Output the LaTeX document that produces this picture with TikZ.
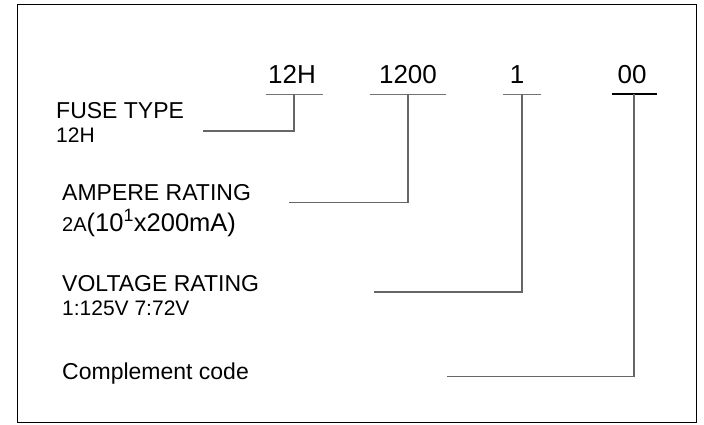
\documentclass[tikz,border=0pt]{standalone}
\usepackage{fontspec}
\setmainfont{Liberation Sans}
\begin{document}
\begin{tikzpicture}[x=1pt,y=-1pt,
  code/.style={anchor=base,inner sep=0pt,font=\fontsize{26}{30}\selectfont},
  lab/.style={anchor=base west,inner sep=0pt,font=\fontsize{23}{27}\selectfont},
  sublab/.style={anchor=base west,inner sep=0pt,font=\fontsize{21}{25}\selectfont},
  uline/.style={draw=black!55,line width=1pt},
  conn/.style={draw=black!60,line width=1.1pt}]
\useasboundingbox (0,0) rectangle (704,424);
\draw[line width=1.3pt] (17.5,4.5) rectangle (696.5,422.8);
% codes
\node[code] (c1) at (292,83) {12H};
\node[code] (c2) at (408,83) {1200};
\node[code] (c3) at (517,83) {1};
\node[code] (c4) at (632,83) {00};
% underlines
\coordinate (u1a) at (266,94); \coordinate (u1b) at (323,94);
\coordinate (u2a) at (370,94); \coordinate (u2b) at (446,94);
\coordinate (u3a) at (503,94); \coordinate (u3b) at (541,94);
\coordinate (u4a) at (612,94); \coordinate (u4b) at (657,94);
\draw[uline] (u1a) -- (u1b);
\draw[uline] (u2a) -- (u2b);
\draw[uline] (u3a) -- (u3b);
\draw[line width=2pt] (u4a) -- (u4b);
% left labels
\node[lab] (l1) at (56,118) {FUSE TYPE};
\node[sublab] (s1) at (56,142) {12H};
\node[lab] (l2) at (62,200) {AMPERE RATING};
\node[anchor=base west,inner sep=0pt] (s2) at (62,231) {\fontsize{20}{24}\selectfont 2A\fontsize{25.5}{30}\selectfont(10\textsuperscript{1}x200mA)};
\node[lab] (l3) at (62,291) {VOLTAGE RATING};
\node[sublab] (s3) at (62,315) {1:125V 7:72V};
\node[lab] (l4) at (62,379) {Complement code};
% connector ends
\coordinate (t1) at (294,94);  \coordinate (k1) at (294,131);   \coordinate (e1) at (203,131);
\coordinate (t2) at (408,94);  \coordinate (k2) at (408,202.5); \coordinate (e2) at (289,202.5);
\coordinate (t3) at (522,94);  \coordinate (k3) at (522,292);   \coordinate (e3) at (374,292);
\coordinate (t4) at (634,94);  \coordinate (k4) at (634,376.5); \coordinate (e4) at (447,376.5);
\draw[conn] (t1) -- (k1) -- (e1);
\draw[conn] (t2) -- (k2) -- (e2);
\draw[conn] (t3) -- (k3) -- (e3);
\draw[conn] (t4) -- (k4) -- (e4);
\end{tikzpicture}
\end{document}
